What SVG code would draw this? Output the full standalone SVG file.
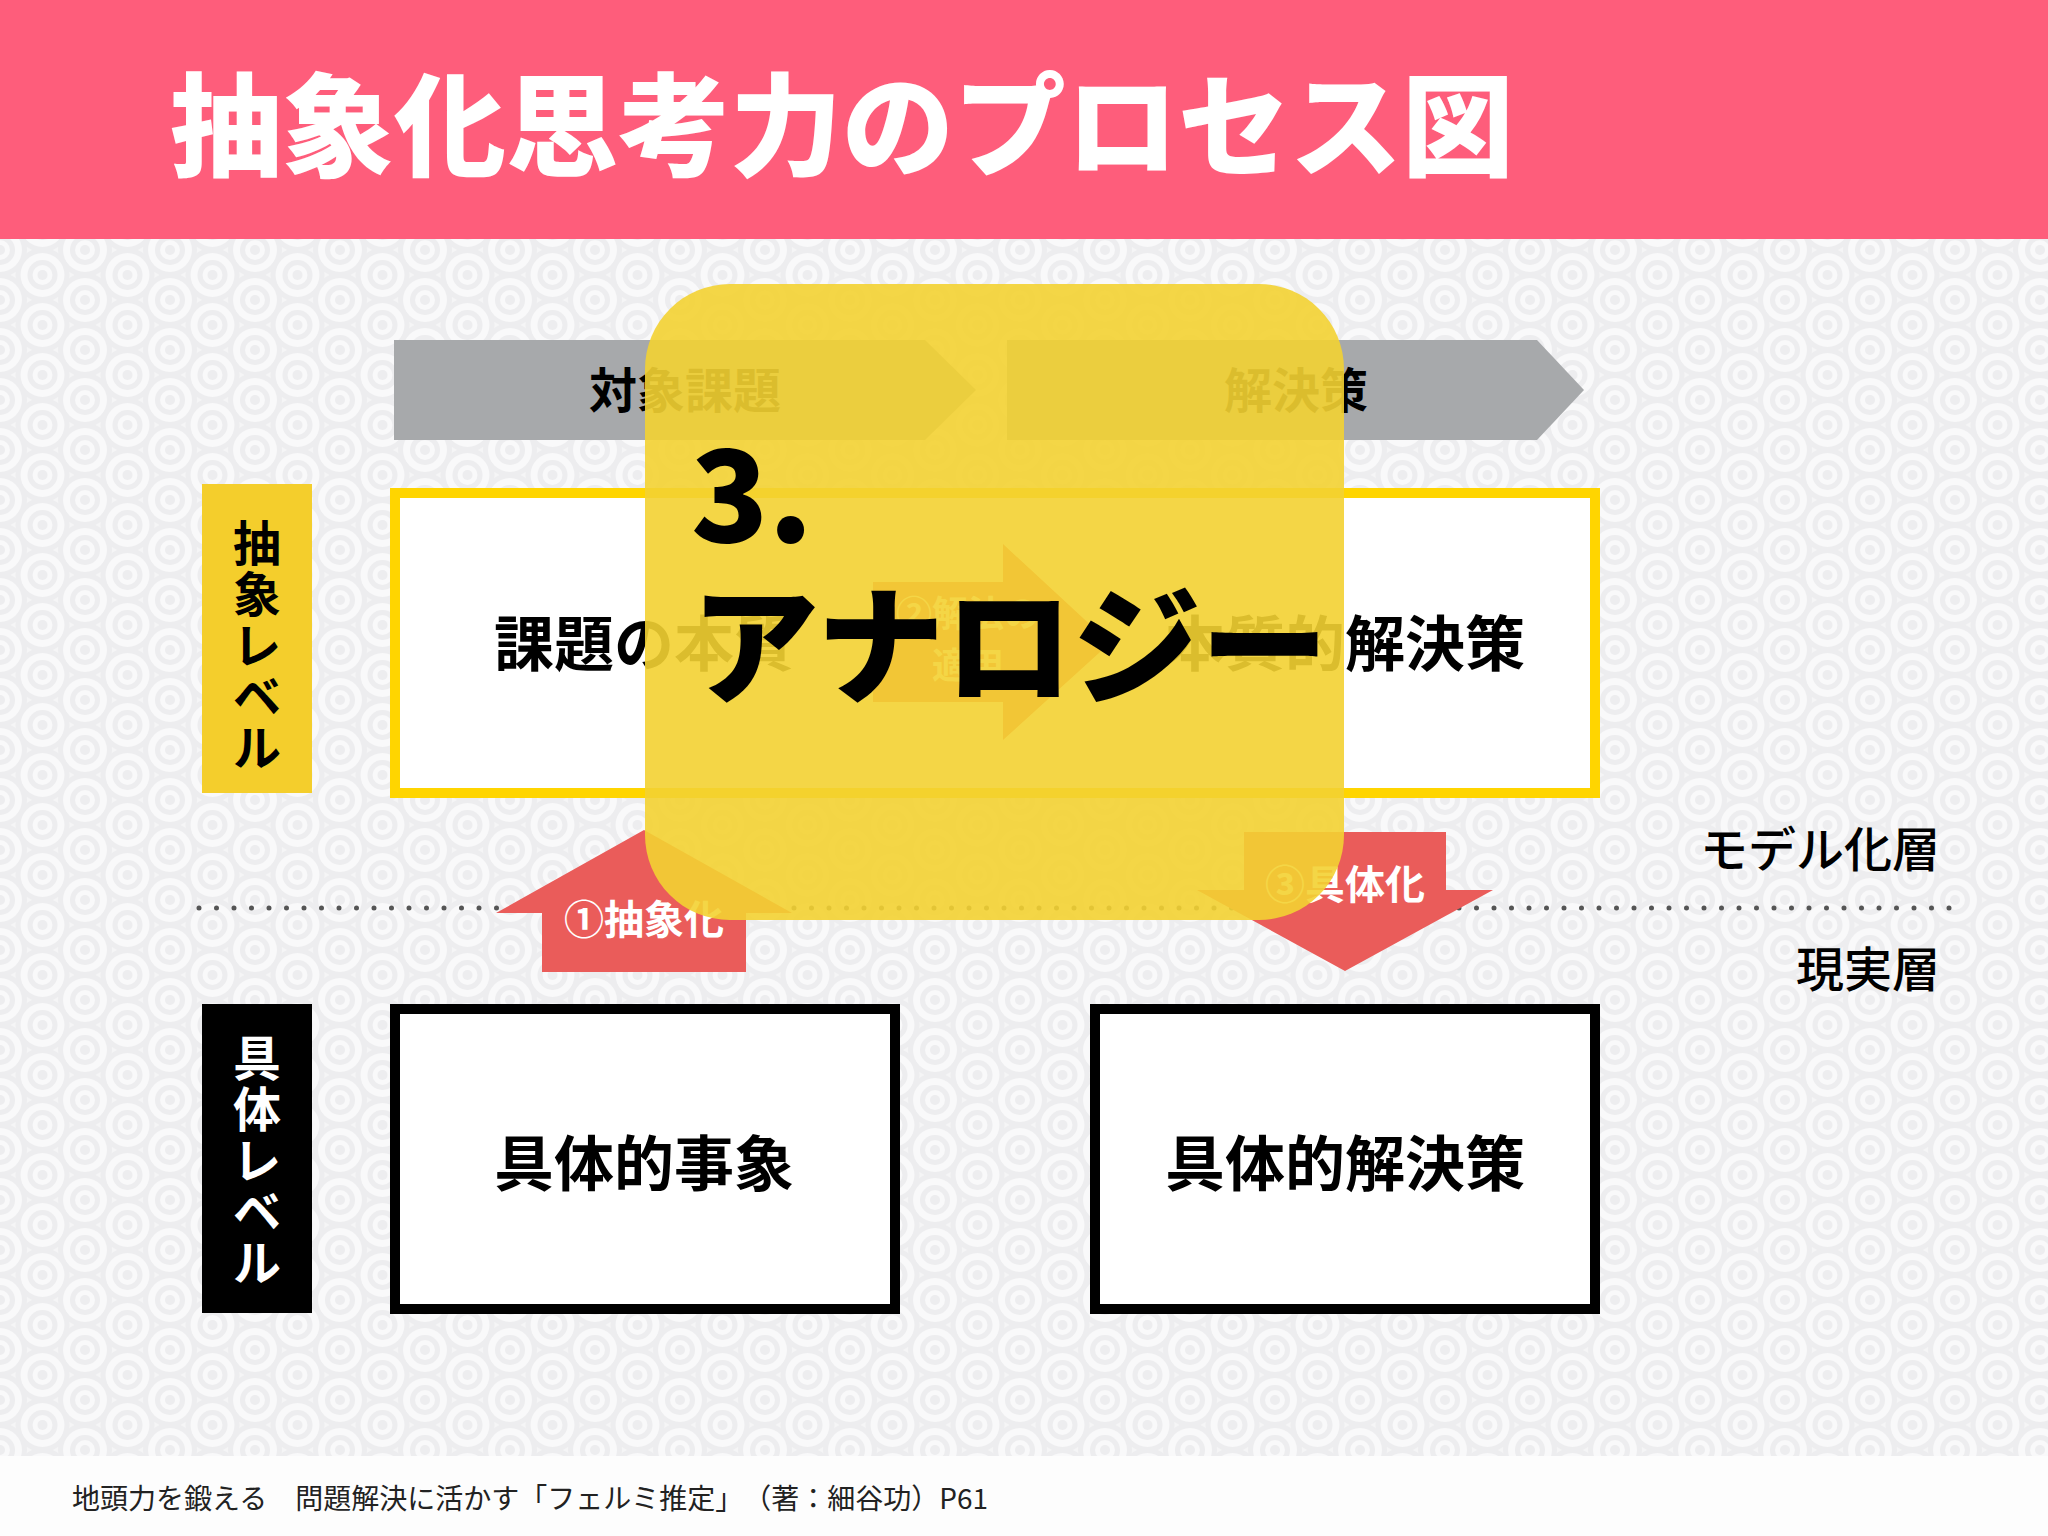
<svg xmlns="http://www.w3.org/2000/svg" width="2048" height="1536" viewBox="0 0 2048 1536">
<defs>
<style>
text{font-family:"Noto Sans CJK JP","Noto Sans CJK SC","Noto Sans",sans-serif;}
.b{font-weight:700;}
.m{font-weight:500;}
.c{text-anchor:middle;}
.red{fill:#EA5C5A;}
.wt{fill:#FFFFFF;font-size:40px;font-weight:700;text-anchor:middle;}
</style>
<g id="ring">
<circle r="27" fill="#EDEDEF"/>
<circle r="22" fill="#F9F9FA"/>
<circle r="15" fill="#EDEDEF"/>
<circle r="10" fill="#F9F9FA"/>
<circle r="5" fill="#EDEDEF"/>
</g>
<pattern id="bgpat" width="85" height="50" patternUnits="userSpaceOnUse">
<rect width="85" height="50" fill="#F5F5F6"/>
<use href="#ring" x="42.5" y="-25"/>
<use href="#ring" x="0" y="0"/>
<use href="#ring" x="85" y="0"/>
<use href="#ring" x="42.5" y="25"/>
<use href="#ring" x="0" y="50"/>
<use href="#ring" x="85" y="50"/>
<use href="#ring" x="42.5" y="75"/>
</pattern>
</defs>

<rect width="2048" height="1536" fill="#FDFDFD"/>
<rect x="0" y="239" width="2048" height="1217" fill="url(#bgpat)"/>

<g id="header">
<rect x="0" y="0" width="2048" height="239" fill="#FE5D7B"/>
<text x="170" y="168" font-size="112" font-weight="900" fill="#FFFFFF">抽象化思考力のプロセス図</text>
</g>

<g id="phase-target">
<path d="M394,340 L925,340 L976,390 L925,440 L394,440 Z" fill="#A7A9AB"/>
<text class="b c" x="685" y="408" font-size="48" fill="#000">対象課題</text>
</g>
<g id="phase-solution">
<path d="M1007,340 L1537,340 L1584,390 L1537,440 L1007,440 Z" fill="#A7A9AB"/>
<text class="b c" x="1296" y="408" font-size="48" fill="#000">解決策</text>
</g>

<g id="label-abstract">
<rect x="202" y="484" width="110" height="309" fill="#F4CE2C"/>
<text class="b c" font-size="48" fill="#000"><tspan x="257" y="561">抽</tspan><tspan x="257" y="612">象</tspan><tspan x="257" y="663">レ</tspan><tspan x="257" y="714">ベ</tspan><tspan x="257" y="765">ル</tspan></text>
</g>
<g id="label-concrete">
<rect x="202" y="1004" width="110" height="309" fill="#000000"/>
<text class="b c" font-size="48" fill="#FFFFFF"><tspan x="257" y="1076">具</tspan><tspan x="257" y="1127">体</tspan><tspan x="257" y="1178">レ</tspan><tspan x="257" y="1229">ベ</tspan><tspan x="257" y="1280">ル</tspan></text>
</g>

<g id="abstract-box">
<rect x="395" y="493" width="1200" height="300" fill="#FFFFFF" stroke="#FFD500" stroke-width="10"/>
<text class="b c" x="644" y="666" font-size="60" fill="#000">課題の本質</text>
<text class="b c" x="1345" y="666" font-size="60" fill="#000">本質的解決策</text>
</g>

<g id="concrete-event">
<rect x="395" y="1009" width="500" height="300" fill="#FFFFFF" stroke="#000" stroke-width="10"/>
<text class="b c" x="644" y="1186" font-size="60" fill="#000">具体的事象</text>
</g>
<g id="concrete-solution">
<rect x="1095" y="1009" width="500" height="300" fill="#FFFFFF" stroke="#000" stroke-width="10"/>
<text class="b c" x="1345" y="1186" font-size="60" fill="#000">具体的解決策</text>
</g>

<line id="layer-divider" x1="199" y1="908" x2="1950" y2="908" stroke="#555555" stroke-width="5" stroke-linecap="round" stroke-dasharray="0 17.5"/>

<g id="layer-model"><text class="m" x="1940" y="867" font-size="48" fill="#000" text-anchor="end">モデル化層</text></g>
<g id="layer-real"><text class="m" x="1940" y="987" font-size="48" fill="#000" text-anchor="end">現実層</text></g>

<g id="connectors">
<g id="arrow-abstraction">
<path class="red" d="M496,913 L644,830 L792,913 L746,913 L746,972 L542,972 L542,913 Z"/>
<text class="wt" x="644" y="934">①抽象化</text>
</g>
<g id="arrow-apply">
<path class="red" d="M873,582 L1003,582 L1003,544 L1110,643 L1003,740 L1003,702 L873,702 Z"/>
<text class="wt" style="font-size:36px"><tspan x="968" y="627">②解法の</tspan><tspan x="968" y="679">適用</tspan></text>
</g>
<g id="arrow-concretion">
<path class="red" d="M1244,832 L1446,832 L1446,890 L1493,890 L1345,971 L1197,890 L1244,890 Z"/>
<text class="wt" x="1345" y="899">③具体化</text>
</g>
</g>

<g id="analogy-overlay">
<rect x="645" y="284" width="699" height="636" rx="85" ry="85" fill="#F3D232" fill-opacity="0.9"/>
<text x="691" y="542" font-size="127" font-weight="900" fill="#000">3.</text>
<text x="691" y="694" font-size="128" font-weight="900" fill="#000">アナロジー</text>
</g>

<g id="footer">
<text x="72" y="1509" font-size="28" fill="#222222" style="text-spacing-trim:space-all">地頭力を鍛える　問題解決に活かす「フェルミ推定」（著：細谷功）P61</text>
</g>
</svg>
